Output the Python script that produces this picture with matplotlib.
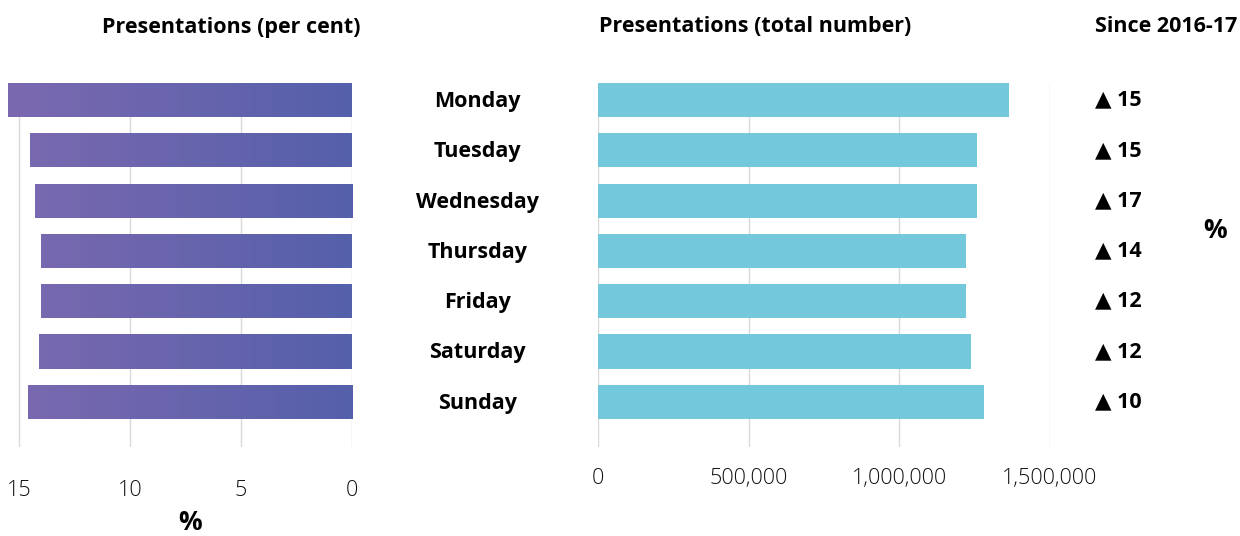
import numpy as np
import matplotlib.pyplot as plt
from matplotlib.colors import LinearSegmentedColormap
from matplotlib.ticker import FuncFormatter

plt.rcParams['font.family'] = ['Open Sans', 'DejaVu Sans']

days = ["Monday", "Tuesday", "Wednesday", "Thursday", "Friday", "Saturday", "Sunday"]
pct = [15.5, 14.5, 14.3, 14.0, 14.0, 14.1, 14.6]
totals = [1364000, 1258000, 1258000, 1222000, 1222000, 1238000, 1281000]
change = [15, 15, 17, 14, 12, 12, 10]

W, H = 1240, 536
fig = plt.figure(figsize=(W / 100, H / 100), dpi=100)


def box(x0, y0, x1, y1):
    # pixel box -> figure fraction
    return [x0 / W, 1 - y1 / H, (x1 - x0) / W, (y1 - y0) / H]


grid_col = '#d9d9d9'
y = np.arange(len(days))
bar_h = 0.68
fs_head = 15.5
fs_tick = 15.5

# left panel: per cent, reversed axis with gradient bars
axl = fig.add_axes(box(8, 83, 352, 447))
bars = axl.barh(y, pct, height=bar_h, color='none', edgecolor='none', zorder=2)
cmap = LinearSegmentedColormap.from_list('purp', ['#7b69b0', '#5560aa'])
grad = np.linspace(0, 1, 256).reshape(1, -1)
for b in bars:
    im = axl.imshow(grad, cmap=cmap, aspect='auto', extent=[15.5, 0, 6.9, -0.34],
                    zorder=2, interpolation='bilinear')
    im.set_clip_path(b)
axl.set_xlim(15.5, 0)
axl.set_ylim(6.9, -0.34)
axl.set_xticks([15, 10, 5, 0])
axl.grid(axis='x', color=grid_col, lw=1, zorder=0)
axl.set_yticks([])
for s in axl.spines.values():
    s.set_visible(False)
axl.tick_params(axis='x', length=0, pad=24, labelsize=fs_tick, labelcolor='#111111')
for t in axl.get_xticklabels():
    t.set_fontweight('light')

# right panel: total number
axr = fig.add_axes(box(598, 83, 1050, 447))
axr.barh(y, totals, height=bar_h, color='#73c8dc', zorder=2)
axr.set_xlim(0, 1500000)
axr.set_ylim(6.9, -0.34)
axr.set_xticks([0, 500000, 1000000, 1500000])
axr.xaxis.set_major_formatter(FuncFormatter(lambda v, p: f'{int(v):,}'))
axr.grid(axis='x', color=grid_col, lw=1, zorder=0)
axr.set_yticks([])
for s in axr.spines.values():
    s.set_visible(False)
axr.tick_params(axis='x', length=0, pad=15, labelsize=fs_tick, labelcolor='#111111')
for t in axr.get_xticklabels():
    t.set_fontweight('light')

# day names between the panels
for i, d in enumerate(days):
    axr.text(-400000, i + 0.03, d, ha='center', va='center', fontsize=fs_head,
             fontweight='bold')

# change since 2016-17
for i, c in enumerate(change):
    axr.text(1650000, i, f'\u25b2 {c}', ha='left', va='center', fontsize=fs_head,
             fontweight='bold')

# headings and unit labels
for x, s in [(231, 'Presentations (per cent)'), (755, 'Presentations (total number)'),
             (1166, 'Since 2016-17')]:
    fig.text(x / W, 1 - 27 / H, s, ha='center', va='center', fontsize=fs_head,
             fontweight='bold')
fig.text(1215 / W, 1 - 230 / H, '%', ha='center', va='center', fontsize=19,
         fontweight='bold')
fig.text(190 / W, 1 - 523 / H, '%', ha='center', va='center', fontsize=19,
         fontweight='bold')

fig.savefig('out.png', dpi=100)
